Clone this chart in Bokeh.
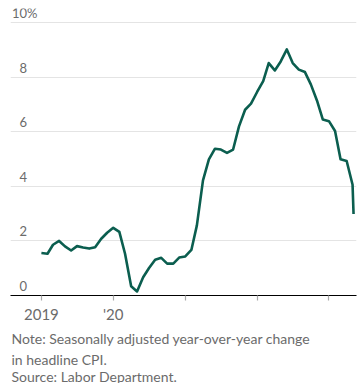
import pandas as pd
from bokeh.plotting import figure
from bokeh.models import FixedTicker, Range1d, LabelSet, ColumnDataSource, Title
from bokeh.core.properties import value
from bokeh.embed import file_html
from bokeh.resources import INLINE

# ---- data ----
months = [
    "2019-01-01", "2019-02-01", "2019-03-01", "2019-04-01", "2019-05-01", "2019-06-01",
    "2019-07-01", "2019-08-01", "2019-09-01", "2019-10-01", "2019-11-01", "2019-12-01",
    "2020-01-01", "2020-02-01", "2020-03-01", "2020-04-01", "2020-05-01", "2020-06-01",
    "2020-07-01", "2020-08-01", "2020-09-01", "2020-10-01", "2020-11-01", "2020-12-01",
    "2021-01-01", "2021-02-01", "2021-03-01", "2021-04-01", "2021-05-01", "2021-06-01",
    "2021-07-01", "2021-08-01", "2021-09-01", "2021-10-01", "2021-11-01", "2021-12-01",
    "2022-01-01", "2022-02-01", "2022-03-01", "2022-04-01", "2022-05-01", "2022-06-01",
    "2022-07-01", "2022-08-01", "2022-09-01", "2022-10-01", "2022-11-01", "2022-12-01",
    "2023-01-01", "2023-02-01", "2023-03-01", "2023-04-01", "2023-05-01", "2023-05-06",
]
cpi_yoy = [
    1.56, 1.53, 1.86, 2.00, 1.80, 1.65, 1.81, 1.76, 1.72, 1.77, 2.08, 2.30,
    2.48, 2.33, 1.53, 0.34, 0.15, 0.67, 1.01, 1.31, 1.38, 1.17, 1.17, 1.39,
    1.43, 1.67, 2.57, 4.22, 4.99, 5.38, 5.35, 5.23, 5.35, 6.20, 6.81, 7.03,
    7.46, 7.86, 8.52, 8.25, 8.58, 9.02, 8.52, 8.28, 8.19, 7.74, 7.15, 6.45,
    6.39, 6.03, 4.99, 4.93, 4.06, 2.99,
]
y_ticks = [0, 2, 4, 6, 8, 10]
y_tick_labels = ["0", "2", "4", "6", "8", "10"]
y_unit_label = "%"
x_tick_dates = ["2019-01-01", "2020-01-01", "2021-01-01", "2022-01-01", "2023-01-01"]
x_tick_labels = ["2019", "'20", "", "", ""]
note_lines = [
    "Note: Seasonally adjusted year-over-year change",
    "in headline CPI.",
    "Source: Labor Department.",
]

FONT = "Lato"
GREY = "#6b6b6b"
LINE = "#0b5e4f"

dates = pd.to_datetime(months)

p = figure(
    frame_width=346, frame_height=287,
    x_axis_type="datetime",
    x_range=Range1d(pd.Timestamp("2018-07-28"), pd.Timestamp("2023-05-21")),
    y_range=Range1d(0, 10.52),
    output_backend="svg", toolbar_location=None,
    min_border_left=10, min_border_right=6, min_border_top=8, min_border_bottom=0,
)
p.outline_line_color = None
p.background_fill_color = "white"
p.border_fill_color = "white"

p.line(dates, cpi_yoy, line_color=LINE, line_width=2.6, line_join="round")

# grid
p.xgrid.visible = False
p.ygrid.ticker = FixedTicker(ticks=y_ticks)
p.ygrid.grid_line_color = "#e4e4e4"
p.ygrid.grid_line_width = 1

# y axis hidden, labels drawn inside plot
p.yaxis.visible = False
src = ColumnDataSource(dict(y=y_ticks, text=y_tick_labels))
p.add_layout(LabelSet(x=16.5, y="y", text="text", source=src, x_units="screen",
                      text_align="right", text_baseline="alphabetic", y_offset=4.6,
                      text_font=value(FONT), text_font_size="13px", text_color=GREY))
src_u = ColumnDataSource(dict(y=[y_ticks[-1]], text=[y_unit_label]))
p.add_layout(LabelSet(x=16.5, y="y", text="text", source=src_u, x_units="screen",
                      text_align="left", text_baseline="alphabetic", y_offset=4.6,
                      text_font=value(FONT), text_font_size="13px", text_color=GREY))

# x axis
tick_ms = [int(pd.Timestamp(d).value // 10**6) for d in x_tick_dates]
xa = p.xaxis[0]
xa.ticker = FixedTicker(ticks=tick_ms)
xa.major_label_overrides = {t: l for t, l in zip(tick_ms, x_tick_labels)}
xa.axis_line_color = "black"
xa.axis_line_width = 1.2
xa.major_tick_in = 0
xa.major_tick_out = 5
xa.major_tick_line_color = "#aaaaaa"
xa.major_tick_line_width = 1.2
xa.minor_tick_line_color = None
xa.major_label_text_font = FONT
xa.major_label_text_font_size = "15px"
xa.major_label_text_color = GREY
xa.major_label_standoff = 4

# notes below the axis
for i, line in enumerate(note_lines):
    p.add_layout(Title(text=line, align="left", offset=1, standoff=5 if i == 0 else -2,
                       text_font=FONT, text_font_size="14px", text_font_style="normal",
                       text_color=GREY), "below")

open("out.html", "w").write(file_html(p, INLINE))
